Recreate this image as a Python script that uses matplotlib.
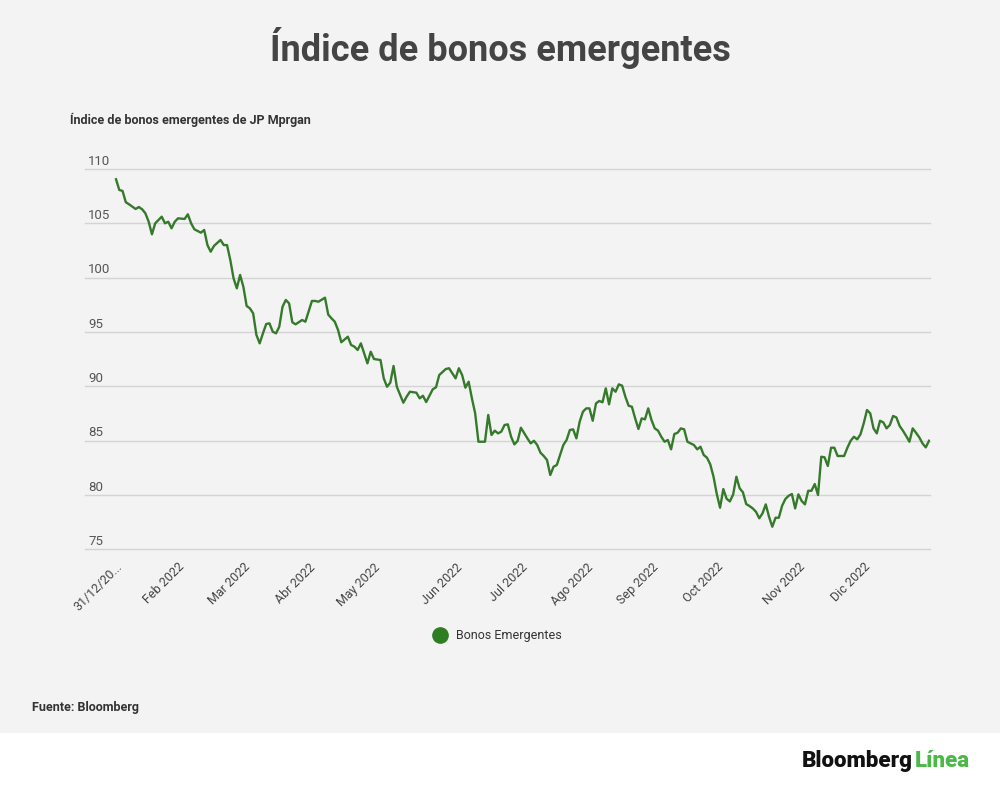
import matplotlib
matplotlib.use("Agg")
import matplotlib.pyplot as plt
from matplotlib.lines import Line2D
from matplotlib.patches import Rectangle

plt.rcParams["font.family"] = ["Roboto", "DejaVu Sans"]

# trading-day index and index level
day = [
    0, 1, 2, 3, 4, 6, 7, 8, 9, 10, 11, 12, 14, 15, 16, 17, 18, 19, 21, 22,
    23, 24, 26, 27, 28, 29, 30, 32, 33, 34, 35, 36, 37, 38, 39, 40, 41, 42, 43, 44,
    45, 46, 47, 48, 49, 50, 51, 52, 53, 54, 55, 57, 58, 60, 61, 62, 64, 65, 66, 67,
    68, 69, 71, 72, 73, 74, 75, 77, 78, 79, 81, 82, 83, 84, 85, 86, 88, 89, 90, 92,
    93, 94, 95, 97, 98, 99, 101, 102, 103, 104, 105, 106, 107, 108, 109, 110, 111, 113, 114, 115,
    116, 117, 118, 119, 120, 121, 122, 123, 124, 126, 127, 128, 129, 130, 131, 132, 133, 134, 135, 136,
    137, 138, 139, 140, 141, 142, 143, 144, 145, 146, 147, 148, 149, 150, 151, 152, 153, 154, 155, 156,
    157, 158, 159, 160, 161, 162, 163, 164, 165, 166, 167, 168, 169, 170, 171, 172, 173, 174, 175, 176,
    177, 178, 179, 180, 181, 182, 183, 184, 185, 186, 187, 188, 189, 190, 191, 192, 193, 194, 195, 196,
    197, 198, 199, 200, 201, 202, 203, 204, 205, 206, 207, 208, 209, 210, 211, 212, 213, 214, 215, 216,
    217, 218, 219, 220, 221, 222, 223, 224, 225, 226, 227, 228, 229, 230, 231, 232, 233, 234, 235, 236,
    237, 238, 239, 240, 241, 242, 243, 244, 245, 246, 247, 248, 249,
]
value = [
    109.05, 108.07, 107.98, 106.94, 106.75, 106.32, 106.5, 106.29, 105.92, 105.15,
    103.99, 105.0, 105.61, 105.0, 105.15, 104.54, 105.15, 105.46, 105.4, 105.83,
    105.0, 104.45, 104.14, 104.39, 103.0, 102.39, 102.92, 103.47, 103.0, 103.0,
    101.63, 99.94, 99.02, 100.25, 99.17, 97.4, 97.18, 96.72, 94.73, 93.96,
    94.88, 95.74, 95.8, 95.03, 94.88, 95.49, 97.33, 97.95, 97.64, 95.9,
    95.71, 96.11, 95.95, 97.86, 97.86, 97.79, 98.16, 96.6, 96.26, 95.95,
    95.19, 94.06, 94.57, 93.81, 93.66, 93.35, 93.96, 92.12, 93.19, 92.52,
    92.43, 90.74, 89.97, 90.34, 91.88, 89.97, 88.5, 89.05, 89.51, 89.42,
    88.9, 89.14, 88.56, 89.73, 89.92, 91.05, 91.6, 91.67, 91.2, 90.74,
    91.67, 91.05, 89.88, 90.43, 88.9, 87.52, 84.91, 84.91, 87.37, 85.53,
    85.93, 85.68, 85.84, 86.45, 86.51, 85.37, 84.67, 84.98, 86.2, 85.22,
    84.76, 85.0, 84.61, 83.9, 83.6, 83.23, 81.85, 82.61, 82.77, 83.69,
    84.61, 85.07, 85.99, 86.05, 85.22, 86.75, 87.67, 87.98, 87.98, 86.84,
    88.44, 88.66, 88.54, 89.82, 88.35, 89.82, 89.51, 90.19, 90.07, 89.05,
    88.22, 88.13, 87.06, 86.08, 87.06, 86.97, 87.98, 86.91, 86.14, 85.93,
    85.37, 84.91, 85.07, 84.21, 85.62, 85.74, 86.14, 86.05, 84.91, 84.76,
    84.61, 84.21, 84.45, 83.69, 83.44, 82.83, 81.69, 80.1, 78.84, 80.56,
    79.67, 79.42, 80.05, 81.69, 80.63, 80.26, 79.18, 79.0, 78.78, 78.47,
    77.87, 78.32, 79.15, 78.01, 77.09, 77.92, 77.92, 79.02, 79.64, 79.94,
    80.1, 78.78, 80.07, 79.46, 79.15, 80.4, 80.4, 81.02, 80.01, 83.53,
    83.48, 82.68, 84.36, 84.36, 83.6, 83.6, 83.6, 84.36, 85.0, 85.37,
    85.13, 85.59, 86.6, 87.83, 87.52, 86.14, 85.68, 86.84, 86.69, 86.14,
    86.45, 87.28, 87.15, 86.36, 85.93, 85.44, 84.91, 86.14, 85.74, 85.32,
    84.76, 84.39, 85.0,
]

tick_days = [0, 19, 39, 59, 79, 104, 124, 144, 164, 184, 209, 229]
tick_labels = ["31/12/20...", "Feb 2022", "Mar 2022", "Abr 2022", "May 2022",
               "Jun 2022", "Jul 2022", "Ago 2022", "Sep 2022", "Oct 2022",
               "Nov 2022", "Dic 2022"]
y_ticks = [75, 80, 85, 90, 95, 100, 105, 110]

bg = "#f3f3f3"
green = "#357a2b"

fig = plt.figure(figsize=(10, 7.87), dpi=100, facecolor=bg)
# white footer strip
fig.patches.append(Rectangle((0, 0), 1, 54 / 787, transform=fig.transFigure,
                             facecolor="white", edgecolor="none", zorder=0))

ax = fig.add_axes([0.085, 0.3018, 0.845, 0.4835])
ax.set_facecolor(bg)
ax.plot(day, value, color=green, linewidth=1.7, zorder=3)

ax.set_xlim(-9.5, 249.3)
ax.set_ylim(75, 110)
for s in ax.spines.values():
    s.set_visible(False)

ax.set_yticks(y_ticks)
ax.set_yticklabels([])
ax.tick_params(axis="y", length=0)
ax.grid(axis="y", color="#d4d4d4", linewidth=1.0, zorder=1)
for gl in ax.get_ygridlines():
    gl.set_clip_on(False)
for yv in y_ticks:
    ax.annotate(str(yv), xy=(0.004, yv), xycoords=ax.get_yaxis_transform(),
                xytext=(0, 1), textcoords="offset points",
                ha="left", va="bottom", fontsize=9.5, color="#555555")

ax.set_xticks(tick_days)
ax.set_xticklabels(tick_labels, rotation=45, ha="right", va="top",
                   rotation_mode="anchor", fontsize=9, color="#444444")
ax.tick_params(axis="x", length=0, pad=8)

fig.text(0.5, 1 - 48 / 787, "Índice de bonos emergentes", ha="center", va="center",
         fontsize=26, fontweight="bold", color="#444444")
fig.text(0.07, 1 - 120 / 787, "Índice de bonos emergentes de JP Mprgan",
         ha="left", va="center", fontsize=9, fontweight="bold", color="#333333")

handle = Line2D([], [], marker="o", linestyle="none", markersize=11,
                markerfacecolor="#2e7d22", markeredgecolor="#2e7d22")
fig.legend([handle], ["Bonos Emergentes"], loc="center",
           bbox_to_anchor=(0.495, 1 - 636 / 787), frameon=False,
           fontsize=9, handletextpad=0.3, labelcolor="#333333")

fig.text(0.032, 1 - 707 / 787, "Fuente: Bloomberg", ha="left", va="center",
         fontsize=9, fontweight="bold", color="#333333")

fig.text(0.913, 1 - 761 / 787, "Bloomberg", ha="right", va="center",
         fontsize=16, fontweight="heavy", color="#111111")
fig.text(0.970, 1 - 761 / 787, "Línea", ha="right", va="center",
         fontsize=16, fontweight="heavy", color="#4cb848")

fig.savefig("out.png", dpi=100, facecolor=bg)
